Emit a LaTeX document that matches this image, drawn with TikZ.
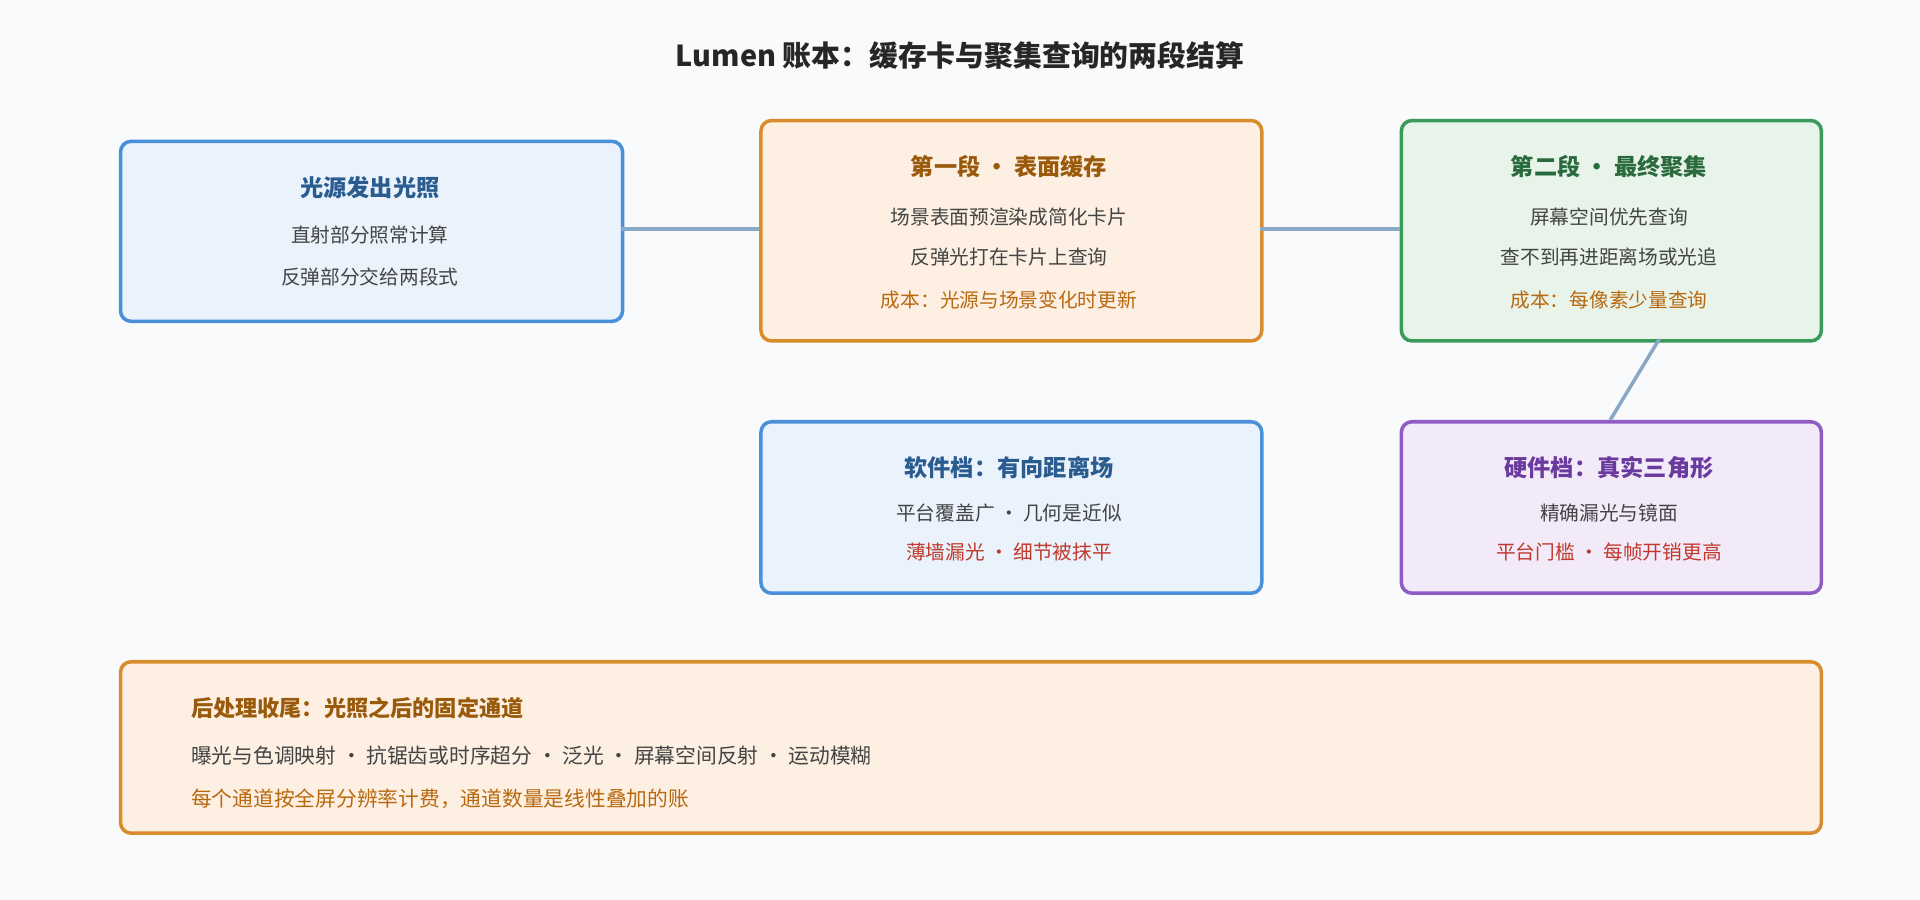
\documentclass[tikz,border=0pt]{standalone}
\usepackage{fontspec}
\setmainfont{Noto Sans CJK SC}
\usetikzlibrary{positioning}
\definecolor{bg}{HTML}{F8FAFC}
\definecolor{blue-fill}{HTML}{EAF2FC}
\definecolor{blue-line}{HTML}{4A90D9}
\definecolor{blue-text}{HTML}{2A5C8F}
\definecolor{orange-fill}{HTML}{FDF0E3}
\definecolor{orange-line}{HTML}{D98C2B}
\definecolor{orange-text}{HTML}{9A5A0C}
\definecolor{cost}{HTML}{B8690F}
\definecolor{green-fill}{HTML}{E8F4EA}
\definecolor{green-line}{HTML}{3A9A5B}
\definecolor{green-text}{HTML}{2A6B3E}
\definecolor{purple-fill}{HTML}{F3EAF9}
\definecolor{purple-line}{HTML}{8E5CC4}
\definecolor{purple-text}{HTML}{6A3A9E}
\definecolor{warn}{HTML}{C0392B}
\definecolor{body}{HTML}{444444}
\definecolor{link}{HTML}{8AA8C4}
\begin{document}
\begin{tikzpicture}[
  x=0.012245cm, y=-0.012245cm,
  box/.style={draw, line width=1pt, rounded corners=3pt, anchor=north west, inner sep=0pt},
  head/.style={font=\fontsize{6.6}{7}\selectfont\bfseries},
  line/.style={font=\fontsize{5.6}{6}\selectfont, text=body},
  link/.style={draw=link, line width=1pt}
]
\fill[bg] (0,0) rectangle (1568,735);
\useasboundingbox (0,0) rectangle (1568,735);

% Title
\node[font=\fontsize{8.2}{9}\selectfont\bfseries, text=black!85] (title) at (784,45) {Lumen 账本：缓存卡与聚集查询的两段结算};

% Light source
\node[box, fill=blue-fill, draw=blue-line, minimum width=410*0.012245cm, minimum height=147*0.012245cm] (source) at (97,114) {};
\node[head, text=blue-text] (sourcehead) at (302,153) {光源发出光照};
\node[line] (source1) at (302,192) {直射部分照常计算};
\node[line] (source2) at (302,226) {反弹部分交给两段式};

% Stage one
\node[box, fill=orange-fill, draw=orange-line, minimum width=409*0.012245cm, minimum height=180*0.012245cm] (stage1) at (620,97) {};
\node[head, text=orange-text] (stage1head) at (824,136) {第一段 • 表面缓存};
\node[line] (stage1a) at (824,177) {场景表面预渲染成简化卡片};
\node[line] (stage1b) at (824,210) {反弹光打在卡片上查询};
\node[line, text=cost] (stage1c) at (824,245) {成本：光源与场景变化时更新};

% Stage two
\node[box, fill=green-fill, draw=green-line, minimum width=343*0.012245cm, minimum height=180*0.012245cm] (stage2) at (1143,97) {};
\node[head, text=green-text] (stage2head) at (1314,136) {第二段 • 最终聚集};
\node[line] (stage2a) at (1314,177) {屏幕空间优先查询};
\node[line] (stage2b) at (1314,210) {查不到再进距离场或光追};
\node[line, text=cost] (stage2c) at (1314,245) {成本：每像素少量查询};

% Software tier
\node[box, fill=blue-fill, draw=blue-line, minimum width=409*0.012245cm, minimum height=140*0.012245cm] (soft) at (620,343) {};
\node[head, text=blue-text] (softhead) at (824,382) {软件档：有向距离场};
\node[line] (soft1) at (824,419) {平台覆盖广 · 几何是近似};
\node[line, text=warn] (soft2) at (824,451) {薄墙漏光 · 细节被抹平};

% Hardware tier
\node[box, fill=purple-fill, draw=purple-line, minimum width=343*0.012245cm, minimum height=140*0.012245cm] (hard) at (1143,343) {};
\node[head, text=purple-text] (hardhead) at (1314,382) {硬件档：真实三角形};
\node[line] (hard1) at (1314,419) {精确漏光与镜面};
\node[line, text=warn] (hard2) at (1314,451) {平台门槛 · 每帧开销更高};

% Post processing
\node[box, fill=orange-fill, draw=orange-line, minimum width=1389*0.012245cm, minimum height=140*0.012245cm] (post) at (97,539) {};
\node[head, text=orange-text, anchor=west, font=\fontsize{6.3}{7}\selectfont\bfseries] (posthead) at (146,578) {后处理收尾：光照之后的固定通道};
\node[line, anchor=west, font=\fontsize{5.9}{6}\selectfont] (post1) at (146,617) {曝光与色调映射 · 抗锯齿或时序超分 · 泛光 · 屏幕空间反射 · 运动模糊};
\node[line, anchor=west, text=cost, font=\fontsize{5.9}{6}\selectfont] (post2) at (146,652) {每个通道按全屏分辨率计费，通道数量是线性叠加的账};

% Links
\coordinate (s1) at (507,187); \coordinate (s2) at (620,187);
\coordinate (t1) at (1029,187); \coordinate (t2) at (1143,187);
\coordinate (g1) at (1355,277); \coordinate (g2) at (1315,343);
\draw[link] (s1) -- (s2);
\draw[link] (t1) -- (t2);
\draw[link] (g1) -- (g2);
\end{tikzpicture}
\end{document}
